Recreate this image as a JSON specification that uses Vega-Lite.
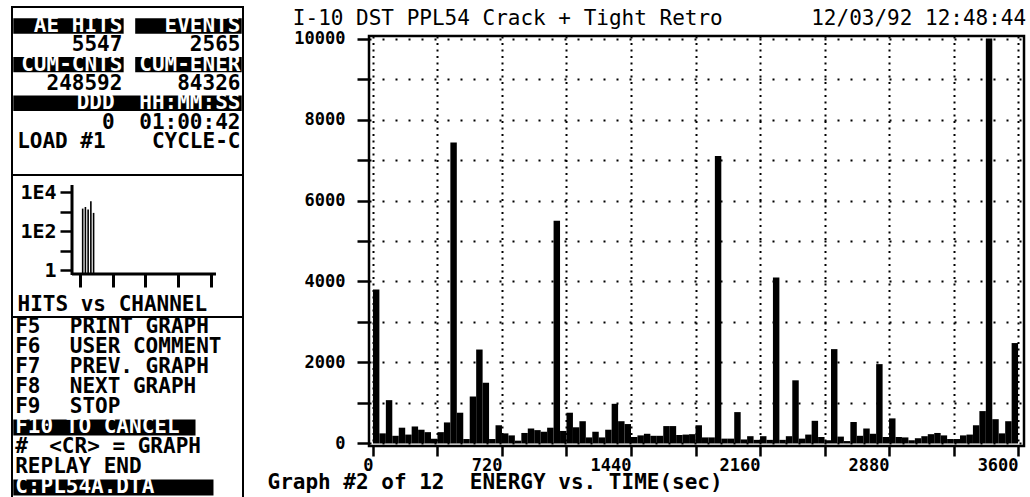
{
  "$schema": "https://vega.github.io/schema/vega-lite/v6.json",
  "background": "white",
  "padding": {"left": 11, "top": 6, "right": 2, "bottom": 0},
  "config": {
    "font": "DejaVu Sans Mono",
    "view": {"stroke": "black", "strokeWidth": 2},
    "axis": {"labelFont": "DejaVu Sans Mono", "titleFont": "DejaVu Sans Mono", "labelColor": "black", "titleColor": "black", "tickColor": "black", "domainColor": "black", "minExtent": 0}
  },
  "datasets": {
    "bins": [
      {"t0":0,"t1":36,"e":3800},{"t0":36,"t1":72,"e":250},{"t0":72,"t1":108,"e":1070},{"t0":108,"t1":144,"e":190},{"t0":144,"t1":180,"e":390},
      {"t0":180,"t1":216,"e":220},{"t0":216,"t1":252,"e":420},{"t0":252,"t1":288,"e":340},{"t0":288,"t1":324,"e":280},{"t0":324,"t1":360,"e":120},
      {"t0":360,"t1":396,"e":280},{"t0":396,"t1":432,"e":520},{"t0":432,"t1":468,"e":7430},{"t0":468,"t1":504,"e":760},{"t0":504,"t1":540,"e":110},
      {"t0":540,"t1":576,"e":1160},{"t0":576,"t1":612,"e":2320},{"t0":612,"t1":648,"e":1500},{"t0":648,"t1":684,"e":110},{"t0":684,"t1":720,"e":450},
      {"t0":720,"t1":756,"e":250},{"t0":756,"t1":792,"e":200},{"t0":792,"t1":828,"e":70},{"t0":828,"t1":864,"e":260},{"t0":864,"t1":900,"e":370},
      {"t0":900,"t1":936,"e":330},{"t0":936,"t1":972,"e":290},{"t0":972,"t1":1008,"e":390},{"t0":1008,"t1":1044,"e":5500},{"t0":1044,"t1":1080,"e":310},
      {"t0":1080,"t1":1116,"e":760},{"t0":1116,"t1":1152,"e":400},{"t0":1152,"t1":1188,"e":550},{"t0":1188,"t1":1224,"e":150},{"t0":1224,"t1":1260,"e":290},
      {"t0":1260,"t1":1296,"e":150},{"t0":1296,"t1":1332,"e":340},{"t0":1332,"t1":1368,"e":980},{"t0":1368,"t1":1404,"e":550},{"t0":1404,"t1":1440,"e":480},
      {"t0":1440,"t1":1476,"e":160},{"t0":1476,"t1":1512,"e":200},{"t0":1512,"t1":1548,"e":240},{"t0":1548,"t1":1584,"e":190},{"t0":1584,"t1":1620,"e":190},
      {"t0":1620,"t1":1656,"e":430},{"t0":1656,"t1":1692,"e":430},{"t0":1692,"t1":1728,"e":210},{"t0":1728,"t1":1764,"e":220},{"t0":1764,"t1":1800,"e":230},
      {"t0":1800,"t1":1836,"e":450},{"t0":1836,"t1":1872,"e":150},{"t0":1872,"t1":1908,"e":150},{"t0":1908,"t1":1944,"e":7100},{"t0":1944,"t1":1980,"e":120},
      {"t0":1980,"t1":2016,"e":120},{"t0":2016,"t1":2052,"e":775},{"t0":2052,"t1":2088,"e":100},{"t0":2088,"t1":2124,"e":180},{"t0":2124,"t1":2160,"e":90},
      {"t0":2160,"t1":2196,"e":180},{"t0":2196,"t1":2232,"e":90},{"t0":2232,"t1":2268,"e":4100},{"t0":2268,"t1":2304,"e":90},{"t0":2304,"t1":2340,"e":180},
      {"t0":2340,"t1":2376,"e":1560},{"t0":2376,"t1":2412,"e":120},{"t0":2412,"t1":2448,"e":220},{"t0":2448,"t1":2484,"e":560},{"t0":2484,"t1":2520,"e":160},
      {"t0":2520,"t1":2556,"e":80},{"t0":2556,"t1":2592,"e":2330},{"t0":2592,"t1":2628,"e":170},{"t0":2628,"t1":2664,"e":60},{"t0":2664,"t1":2700,"e":530},
      {"t0":2700,"t1":2736,"e":190},{"t0":2736,"t1":2772,"e":370},{"t0":2772,"t1":2808,"e":240},{"t0":2808,"t1":2844,"e":1960},{"t0":2844,"t1":2880,"e":160},
      {"t0":2880,"t1":2916,"e":620},{"t0":2916,"t1":2952,"e":160},{"t0":2952,"t1":2988,"e":150},{"t0":2988,"t1":3024,"e":80},{"t0":3024,"t1":3060,"e":130},
      {"t0":3060,"t1":3096,"e":180},{"t0":3096,"t1":3132,"e":230},{"t0":3132,"t1":3168,"e":260},{"t0":3168,"t1":3204,"e":200},{"t0":3204,"t1":3240,"e":110},
      {"t0":3240,"t1":3276,"e":110},{"t0":3276,"t1":3312,"e":200},{"t0":3312,"t1":3348,"e":220},{"t0":3348,"t1":3384,"e":450},{"t0":3384,"t1":3420,"e":800},
      {"t0":3420,"t1":3456,"e":10000},{"t0":3456,"t1":3492,"e":600},{"t0":3492,"t1":3528,"e":250},{"t0":3528,"t1":3564,"e":550},{"t0":3564,"t1":3600,"e":2480}
    ],
    "hits": [
      {"ch":1,"hits":1410},{"ch":2,"hits":1700},{"ch":3,"hits":1250},{"ch":4,"hits":3330},{"ch":5,"hits":850}
    ],
    "statsBoxes": [
      {"line":1,"c0":0.1,"c1":8.7},{"line":1,"c0":9.6,"c1":17.9},
      {"line":3,"c0":0.1,"c1":8.7},{"line":3,"c0":9.6,"c1":17.9},
      {"line":5,"c0":0.1,"c1":17.9}
    ],
    "statsEnd": [
      {"line":1,"col":8.6,"text":"AE HITS","inv":true},
      {"line":1,"col":17.8,"text":"EVENTS","inv":true},
      {"line":2,"col":8.6,"text":"5547","inv":false},
      {"line":2,"col":17.8,"text":"2565","inv":false},
      {"line":3,"col":8.6,"text":"CUM-CNTS","inv":true},
      {"line":3,"col":17.8,"text":"CUM-ENER","inv":true},
      {"line":4,"col":8.6,"text":"248592","inv":false},
      {"line":4,"col":17.8,"text":"84326","inv":false},
      {"line":5,"col":8.0,"text":"DDD","inv":true},
      {"line":5,"col":17.8,"text":"HH:MM:SS","inv":true},
      {"line":6,"col":8.0,"text":"0","inv":false},
      {"line":6,"col":17.8,"text":"01:00:42","inv":false},
      {"line":7,"col":17.8,"text":"CYCLE-C","inv":false}
    ],
    "statsStart": [
      {"line":7,"col":0.4,"text":"LOAD #1","inv":false}
    ],
    "menuBoxes": [
      {"line":6,"c0":0.1,"c1":14.3},
      {"line":9,"c0":0.1,"c1":15.7}
    ],
    "menuText": [
      {"line":1,"col":0.25,"text":"F5","inv":false},{"line":1,"col":4.5,"text":"PRINT GRAPH","inv":false},
      {"line":2,"col":0.25,"text":"F6","inv":false},{"line":2,"col":4.5,"text":"USER COMMENT","inv":false},
      {"line":3,"col":0.25,"text":"F7","inv":false},{"line":3,"col":4.5,"text":"PREV. GRAPH","inv":false},
      {"line":4,"col":0.25,"text":"F8","inv":false},{"line":4,"col":4.5,"text":"NEXT GRAPH","inv":false},
      {"line":5,"col":0.25,"text":"F9","inv":false},{"line":5,"col":4.5,"text":"STOP","inv":false},
      {"line":6,"col":0.25,"text":"F10 TO CANCEL","inv":true},
      {"line":7,"col":0.25,"text":"#","inv":false},{"line":7,"col":2.9,"text":"<CR> = GRAPH","inv":false},
      {"line":8,"col":0.25,"text":"REPLAY END","inv":false},
      {"line":9,"col":0.25,"text":"C:PL54A.DTA","inv":true}
    ],
    "heading": [
      {"label":"I-10 DST PPL54 Crack + Tight Retro\u00a0\u00a0\u00a0\u00a0\u00a0\u00a0\u00a012/03/92 12:48:44"}
    ]
  },
  "spacing": 21,
  "hconcat": [
    {
      "spacing": 0,
      "bounds": "flush",
      "vconcat": [
        {
          "width": 231,
          "height": 168,
          "layer": [
            {
              "data": {"name": "statsBoxes"},
              "mark": {"type": "bar", "color": "black"},
              "encoding": {
                "x": {"field": "c0", "type": "quantitative", "scale": {"domain": [0, 18], "nice": false, "zero": false}, "axis": null},
                "x2": {"field": "c1"},
                "y": {"field": "line", "type": "ordinal", "scale": {"domain": [1,2,3,4,5,6,7,8], "paddingInner": 0.2, "paddingOuter": 0.45, "align": 0.65}, "axis": null}
              }
            },
            {
              "data": {"name": "statsEnd"},
              "mark": {"type": "text", "align": "right", "baseline": "middle", "font": "DejaVu Sans Mono", "fontSize": 21, "fontWeight": "bold"},
              "encoding": {
                "x": {"field": "col", "type": "quantitative"},
                "y": {"field": "line", "type": "ordinal"},
                "text": {"field": "text"},
                "color": {"condition": {"test": "datum.inv", "value": "white"}, "value": "black"}
              }
            },
            {
              "data": {"name": "statsStart"},
              "mark": {"type": "text", "align": "left", "baseline": "middle", "font": "DejaVu Sans Mono", "fontSize": 21, "fontWeight": "bold"},
              "encoding": {
                "x": {"field": "col", "type": "quantitative"},
                "y": {"field": "line", "type": "ordinal"},
                "text": {"field": "text"},
                "color": {"condition": {"test": "datum.inv", "value": "white"}, "value": "black"}
              }
            }
          ]
        },
        {
          "width": 231,
          "height": 142,
          "layer": [
            {
              "data": {"name": "hits"},
              "mark": {"type": "rule", "strokeWidth": 1.6, "color": "black"},
              "encoding": {
                "x": {
                  "field": "ch", "type": "quantitative",
                  "scale": {"domain": [-24.9, 59.75], "nice": false, "zero": false},
                  "axis": {"values": [0,6,12,18,24,30,36,42,48], "labels": false, "domain": false, "grid": false, "ticks": true, "tickSize": 13, "tickWidth": 3, "offset": -43,
                    "title": "HITS vs CHANNEL", "titleX": 5, "titleY": 36, "titleAlign": "left", "titleBaseline": "alphabetic", "titleFontSize": 21, "titleFontWeight": "bold"}
                },
                "y": {
                  "field": "hits", "type": "quantitative",
                  "scale": {"type": "log", "domain": [0.00389, 74500], "nice": false},
                  "axis": {"values": [1,10,100,1000,10000], "labelExpr": "datum.value == 1 ? '1' : datum.value == 100 ? '1E2' : datum.value == 10000 ? '1E4' : ''",
                    "domain": false, "grid": false, "ticks": true, "tickSize": 12, "tickWidth": 2.5, "offset": -60, "labelPadding": 4,
                    "labelFontSize": 20, "labelFontWeight": "bold", "labelBaseline": "middle", "title": null}
                },
                "y2": {"datum": 0.623}
              }
            },
            {
              "data": {"values": [{}]},
              "mark": {"type": "rule", "strokeWidth": 3, "color": "black"},
              "encoding": {
                "x": {"datum": -2.91},
                "y": {"datum": 0.554},
                "y2": {"datum": 22860}
              }
            },
            {
              "data": {"values": [{}]},
              "mark": {"type": "rule", "strokeWidth": 3, "color": "black"},
              "encoding": {
                "x": {"datum": -2.91},
                "x2": {"datum": 49.85},
                "y": {"datum": 0.623}
              }
            }
          ]
        },
        {
          "width": 231,
          "height": 182,
          "layer": [
            {
              "data": {"name": "menuBoxes"},
              "mark": {"type": "bar", "color": "black"},
              "encoding": {
                "x": {"field": "c0", "type": "quantitative", "scale": {"domain": [0, 18], "nice": false, "zero": false}, "axis": null},
                "x2": {"field": "c1"},
                "y": {"field": "line", "type": "ordinal", "scale": {"domain": [1,2,3,4,5,6,7,8,9], "paddingInner": 0.2, "paddingOuter": 0.15, "align": 0.4}, "axis": null}
              }
            },
            {
              "data": {"name": "menuText"},
              "mark": {"type": "text", "align": "left", "baseline": "middle", "font": "DejaVu Sans Mono", "fontSize": 21, "fontWeight": "bold"},
              "encoding": {
                "x": {"field": "col", "type": "quantitative"},
                "y": {"field": "line", "type": "ordinal"},
                "text": {"field": "text"},
                "color": {"condition": {"test": "datum.inv", "value": "white"}, "value": "black"}
              }
            }
          ]
        }
      ]
    },
    {
      "spacing": 0,
      "bounds": "flush",
      "vconcat": [
        {
          "width": 581,
          "height": 29,
          "view": {"stroke": null},
          "data": {"name": "heading"},
          "mark": {"type": "text", "align": "center", "baseline": "alphabetic", "dy": 3.5, "font": "DejaVu Sans Mono", "fontSize": 21, "fontWeight": "normal", "color": "black"},
          "encoding": {
            "text": {"field": "label"}
          }
        },
        {
          "width": 655,
          "height": 410,
          "view": {"stroke": "black", "strokeWidth": 2.5},
          "data": {"name": "bins"},
          "mark": {"type": "rect", "color": "black"},
          "encoding": {
            "x": {
              "field": "t0", "type": "quantitative",
              "scale": {"domain": [-22, 3633], "nice": false, "zero": false},
              "axis": {
                "values": [0,360,720,1080,1440,1800,2160,2520,2880,3240,3600],
                "format": "d",
                "labelExpr": "datum.value % 720 === 0 ? datum.label : ''",
                "grid": true, "gridDash": [2, 4.5], "gridColor": "black", "gridWidth": 2, "gridOpacity": 1,
                "domain": false, "ticks": true, "tickSize": 10, "tickWidth": 2.5,
                "labelFontSize": 17, "labelFontWeight": "bold", "labelPadding": 1, "labelFlush": false, "labelOverlap": false,
                "labelAlign": "right", "labelOffset": 0,
                "title": "Graph #2 of 12\u00a0\u00a0ENERGY vs. TIME(sec)",
                "titleX": -102, "titleY": 42, "titleAlign": "left", "titleBaseline": "alphabetic",
                "titleFontSize": 21, "titleFontWeight": "bold"
              }
            },
            "x2": {"field": "t1"},
            "y": {
              "field": "e", "type": "quantitative",
              "scale": {"domain": [-62, 10062], "nice": false, "zero": false},
              "axis": {
                "values": [0,1000,2000,3000,4000,5000,6000,7000,8000,9000,10000],
                "format": "d",
                "labelExpr": "datum.value % 2000 === 0 ? datum.label : ''",
                "grid": true, "gridDash": [2, 11], "gridColor": "black", "gridWidth": 2, "gridOpacity": 1,
                "domain": false, "ticks": true, "tickSize": 12, "tickWidth": 2.5,
                "labelFontSize": 17, "labelFontWeight": "bold", "labelPadding": 12, "labelBaseline": "middle", "labelOverlap": false,
                "title": null
              }
            },
            "y2": {"datum": 0}
          }
        }
      ]
    }
  ]
}
